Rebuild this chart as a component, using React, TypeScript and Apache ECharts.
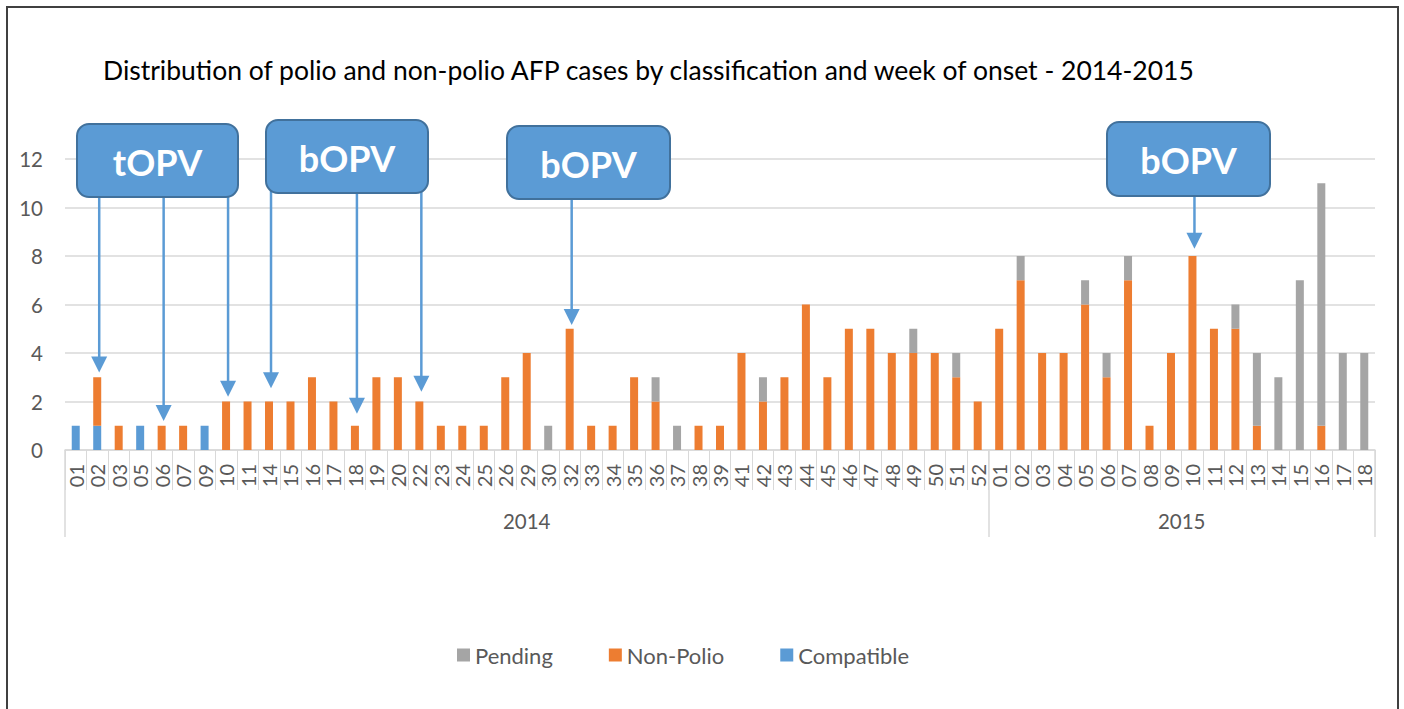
import React, { useEffect, useRef } from 'react';
import * as echarts from 'echarts';

const weeks2014 = ['01','02','03','05','06','07','09','10','11','14','15','16','17','18','19','20','22','23','24','25','26','29','30','32','33','34','35','36','37','38','39','41','42','43','44','45','46','47','48','49','50','51','52'];
const weeks2015 = ['01','02','03','04','05','06','07','08','09','10','11','12','13','14','15','16','17','18'];
const years = ['2014', '2015'];

const compatible2014 = [1,1,0,1,0,0,1,0,0,0,0,0,0,0,0,0,0,0,0,0,0,0,0,0,0,0,0,0,0,0,0,0,0,0,0,0,0,0,0,0,0,0,0];
const nonPolio2014 = [0,2,1,0,1,1,0,2,2,2,2,3,2,1,3,3,2,1,1,1,3,4,0,5,1,1,3,2,0,1,1,4,2,3,6,3,5,5,4,4,4,3,2];
const pending2014 = [0,0,0,0,0,0,0,0,0,0,0,0,0,0,0,0,0,0,0,0,0,0,1,0,0,0,0,1,1,0,0,0,1,0,0,0,0,0,0,1,0,1,0];

const compatible2015 = [0,0,0,0,0,0,0,0,0,0,0,0,0,0,0,0,0,0];
const nonPolio2015 = [5,7,4,4,6,3,7,1,4,8,5,5,1,0,0,1,0,0];
const pending2015 = [0,1,0,0,1,1,1,0,0,0,0,1,3,3,7,10,4,4];

const yTicks = [0, 2, 4, 6, 8, 10, 12];

// Vaccination campaign callouts
const calloutLabels = ['tOPV', 'bOPV', 'bOPV', 'bOPV'];
// arrows: category key, value at arrow tip, callout index
const arrowWeeks = ['2014-02','2014-06','2014-10','2014-14','2014-18','2014-22','2014-32','2015-10'];
const arrowTips = [3.2, 1.2, 2.2, 2.55, 1.5, 2.4, 5.15, 8.3];
const arrowCallout = [0, 0, 0, 1, 1, 1, 2, 3];

const FONT = 'Lato';
const C_PENDING = '#A5A5A5';
const C_NONPOLIO = '#ED7D31';
const C_COMPAT = '#5B9BD5';
const TXT = '#595959';
const GRIDC = '#D9D9D9';

export default function App() {
  const ref = useRef<HTMLDivElement>(null);
  useEffect(() => {
    document.body.style.margin = '0';
    const chart = echarts.init(ref.current!, undefined, { renderer: 'svg' });
    const categories = [
      ...weeks2014.map((w) => '2014-' + w),
      ...weeks2015.map((w) => '2015-' + w),
    ];
    const compatible = [...compatible2014, ...compatible2015];
    const nonPolio = [...nonPolio2014, ...nonPolio2015];
    const pending = [...pending2014, ...pending2015];
    const n = categories.length;
    const split = weeks2014.length;

    chart.setOption({
      animation: false,
      title: {
        text: 'Distribution of polio and non-polio AFP cases by classification and week of onset - 2014-2015',
        left: 98,
        top: 51,
        textStyle: { fontFamily: FONT, fontSize: 26.5, fontWeight: 'normal', color: '#000' },
      },
      legend: {
        data: ['Pending', 'Non-Polio', 'Compatible'],
        left: 452,
        top: 639,
        itemWidth: 13,
        itemHeight: 13,
        itemGap: 56,
        icon: 'rect',
        textStyle: { fontFamily: FONT, fontSize: 22, color: TXT },
      },
      grid: { left: 65, right: 29, top: 159, bottom: 259, containLabel: false },
      xAxis: [
        {
          type: 'category',
          data: categories,
          boundaryGap: true,
          axisLine: { lineStyle: { color: GRIDC, width: 1.5 } },
          axisTick: { show: true, length: 40, lineStyle: { color: GRIDC, width: 1 } },
          axisLabel: {
            interval: 0,
            rotate: 90,
            margin: 14,
            fontFamily: FONT,
            fontSize: 20,
            color: TXT,
            formatter: (v: string) => v.slice(5),
          },
        },
        {
          type: 'value',
          min: -0.5,
          max: 60.5,
          position: 'bottom',
          axisLine: { show: false },
          splitLine: { show: false },
          axisTick: {
            show: true,
            length: 87,
            customValues: [-0.5, split - 0.5, n - 0.5],
            lineStyle: { color: GRIDC, width: 1.5 },
          },
          axisLabel: {
            customValues: [(split - 1) / 2, split + (n - 1 - split) / 2],
            margin: 60,
            fontFamily: FONT,
            fontSize: 20.5,
            color: TXT,
            formatter: (v: number) => (v < split - 0.5 ? years[0] : years[1]),
          },
        },
      ],
      yAxis: {
        type: 'value',
        min: yTicks[0],
        max: yTicks[yTicks.length - 1],
        interval: 2,
        axisLine: { show: false },
        axisTick: { show: false },
        splitLine: { lineStyle: { color: GRIDC, width: 1.5 } },
        axisLabel: { margin: 22, fontFamily: FONT, fontSize: 20.5, color: TXT },
      },
      series: [
        { name: 'Compatible', type: 'bar', stack: 'cases', data: compatible, barWidth: 8, itemStyle: { color: C_COMPAT } },
        { name: 'Non-Polio', type: 'bar', stack: 'cases', data: nonPolio, barWidth: 8, itemStyle: { color: C_NONPOLIO } },
        { name: 'Pending', type: 'bar', stack: 'cases', data: pending, barWidth: 8, itemStyle: { color: C_PENDING } },
      ],
    });

    // Callout boxes (layout in pixels)
    const boxes = [
      { x: 77, y: 124, w: 161, h: 73 },
      { x: 266, y: 120, w: 162, h: 73 },
      { x: 507, y: 126, w: 163, h: 73 },
      { x: 1107, y: 122, w: 163, h: 74 },
    ];
    const graphics: any[] = [];
    graphics.push({
      type: 'rect',
      z: 200,
      silent: true,
      shape: { x: 7, y: 7, width: 1391, height: 730 },
      style: { fill: 'none', stroke: '#404040', lineWidth: 2 },
    });
    arrowWeeks.forEach((key, i) => {
      const idx = categories.indexOf(key);
      const p = chart.convertToPixel({ xAxisIndex: 0, yAxisIndex: 0 }, [idx, arrowTips[i]]) as number[];
      const b = boxes[arrowCallout[i]];
      const x = p[0] + 2;
      const tip = p[1];
      const head = 16;
      graphics.push({
        type: 'line',
        z: 150,
        shape: { x1: x, y1: b.y + b.h - 2, x2: x, y2: tip - head + 2 },
        style: { stroke: C_COMPAT, lineWidth: 2.5 },
      });
      graphics.push({
        type: 'polygon',
        z: 150,
        shape: { points: [[x - 8, tip - head], [x + 8, tip - head], [x, tip]] },
        style: { fill: C_COMPAT },
      });
    });
    boxes.forEach((b, i) => {
      graphics.push({
        type: 'rect',
        z: 160,
        shape: { x: b.x, y: b.y, width: b.w, height: b.h, r: 12 },
        style: { fill: '#5B9BD5', stroke: '#41719C', lineWidth: 2 },
      });
      graphics.push({
        type: 'text',
        z: 161,
        x: b.x + b.w / 2,
        y: b.y + b.h / 2 + 1,
        style: {
          text: calloutLabels[i],
          fill: '#FFFFFF',
          fontFamily: FONT,
          fontWeight: 'bold',
          fontSize: 36,
          align: 'center',
          verticalAlign: 'middle',
        },
      });
    });
    chart.setOption({ graphic: graphics });

    return () => chart.dispose();
  }, []);
  return <div ref={ref} style={{ width: 1404, height: 709 }} />;
}
